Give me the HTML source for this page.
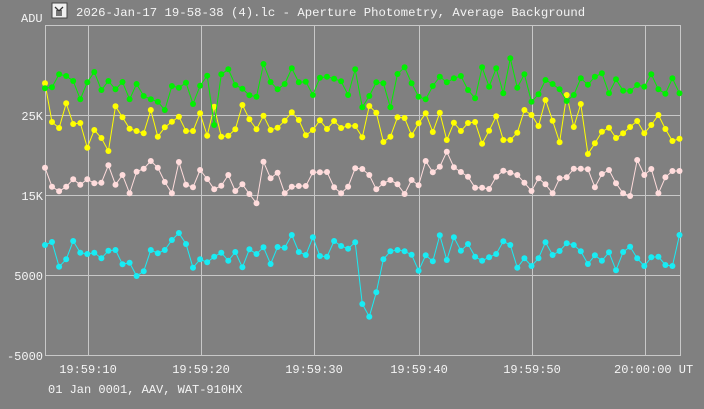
<!DOCTYPE html>
<html><head><meta charset="utf-8"><style>
html,body{margin:0;padding:0;background:#808080;width:704px;height:409px;overflow:hidden}
svg{display:block}
text{font-family:"Liberation Mono",monospace;font-size:12px;fill:#f4f4f4}
</style></head><body>
<svg id="s" width="704" height="409" viewBox="0 0 704 409">
<rect width="704" height="409" fill="#808080"/>
<g stroke="#c8c8c8" stroke-width="1" fill="none">
<rect x="45.5" y="25.5" width="635" height="330"/>
<line x1="88.5" y1="25" x2="88.5" y2="356"/>
<line x1="201.5" y1="25" x2="201.5" y2="356"/>
<line x1="314.5" y1="25" x2="314.5" y2="356"/>
<line x1="419.5" y1="25" x2="419.5" y2="356"/>
<line x1="532.5" y1="25" x2="532.5" y2="356"/>
<line x1="645.5" y1="25" x2="645.5" y2="356"/>
<line x1="45" y1="115.5" x2="680" y2="115.5"/>
<line x1="45" y1="195.5" x2="680" y2="195.5"/>
<line x1="45" y1="275.5" x2="680" y2="275.5"/>
</g>
<rect x="52" y="3" width="15" height="15" fill="#f0f0f0" stroke="#444" stroke-width="1"/>
<path d="M55 7 L59 11 L63 7 M57 10 V16 M61 10 V16 M59 11 V16" stroke="#333" stroke-width="1.3" fill="none"/>
<text x="76" y="16" style="font-size:12.3px">2026-Jan-17 19-58-38 (4).lc - Aperture Photometry, Average Background</text>
<text x="21" y="22">ADU</text>
<text x="43" y="120" text-anchor="end">25K</text>
<text x="43" y="200" text-anchor="end">15K</text>
<text x="43" y="280" text-anchor="end">5000</text>
<text x="43" y="360" text-anchor="end">-5000</text>
<text x="88" y="373" text-anchor="middle">19:59:10</text>
<text x="201" y="373" text-anchor="middle">19:59:20</text>
<text x="314" y="373" text-anchor="middle">19:59:30</text>
<text x="419" y="373" text-anchor="middle">19:59:40</text>
<text x="532" y="373" text-anchor="middle">19:59:50</text>
<text x="614" y="373">20:00:00 UT</text>
<text x="48" y="393">01 Jan 0001, AAV, WAT-910HX</text>
<g id="d"></g>
</svg>
<script>
var z3={
g:[115,112,73,78,93,148,97,66,120,93,118,96,148,102,138,148,155,180,108,113,98,162,107,77,225,73,58,105,116,136,140,42,96,118,102,55,97,95,135,83,80,86,94,135,58],
y:[100,216,234,160,222,219,293,240,264,303,169,202,236,243,250,180,260,232,215,200,243,243,190,257,170,260,257,238,165,208,238,197,240,233,212,187,210,256,240,211,237,213,234,227,228],
p:[353,410,424,410,388,404,388,400,398,346,404,375,430,365,356,333,353,396,430,336,404,412,360,387,418,407,375,423,403,432,460,335,385,368,430,410,408,408,367,367,366,412,430,410,355],
c:[585,576,650,628,573,608,612,608,625,602,600,643,638,678,664,600,610,600,570,549,582,653,628,637,620,608,632,606,652,598,612,592,642,591,593,555,606,615,562,618,620,573,588,596,577]};
var z4={
g:[172,138,97,100,172,72,52,100,140,148,108,80,97,85,78,120,145,52,110,55,130,25,113,73,155,133,90,102,118,153,135,85,104,80,70,130,88,122,123,105,110,73,118,131,85,130],
y:[262,168,188,276,260,202,204,256,220,190,246,188,270,218,243,219,216,281,242,199,270,270,248,180,195,228,150,212,277,135,231,162,312,280,245,233,264,250,231,213,250,225,195,237,273,266],
p:[357,375,418,400,390,403,432,390,406,333,367,350,305,352,366,380,413,413,417,380,362,368,375,398,423,385,403,430,385,382,356,356,358,412,372,360,400,430,438,330,375,357,430,382,363,363],
c:[762,800,727,628,604,600,604,614,662,616,634,556,630,562,602,582,620,632,622,612,574,585,653,625,648,625,577,615,603,580,585,604,642,616,632,607,661,606,590,625,648,622,620,645,648,555]};
var cols={g:"#00f000",y:"#ffff00",p:"#ffdcdc",c:"#18ecf4"};
var out="";
["p","c","y","g"].forEach(function(k){
 var v=z3[k].concat(z4[k]);var pts=[];
 for(var i=0;i<v.length;i++){pts.push([(45+i*7.05).toFixed(1),(50+v[i]/3).toFixed(1)]);}
 out+='<polyline fill="none" stroke="'+cols[k]+'" stroke-width="1" points="'+pts.map(function(p){return p.join(",")}).join(" ")+'"/>';
 pts.forEach(function(p){out+='<circle cx="'+p[0]+'" cy="'+p[1]+'" r="3" fill="'+cols[k]+'"/>';});
});
document.getElementById("d").innerHTML=out;
</script>
</body></html>
